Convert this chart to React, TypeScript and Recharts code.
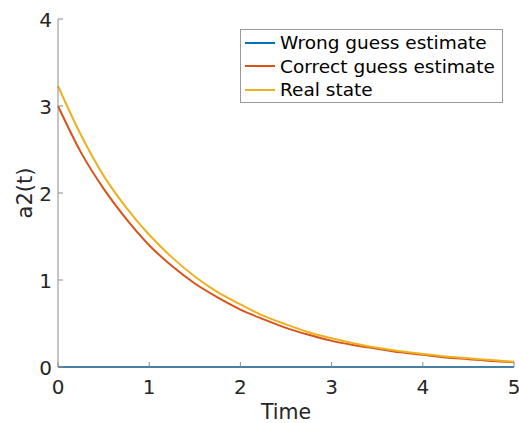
import React from 'react';
import { LineChart, Line, XAxis, YAxis, Legend, Label } from 'recharts';

const times = [0, 0.25, 0.5, 0.75, 1, 1.25, 1.5, 1.75, 2, 2.25, 2.5, 2.75, 3, 3.25, 3.5, 3.75, 4, 4.25, 4.5, 4.75, 5];
const wrongGuess = [0, 0, 0, 0, 0, 0, 0, 0, 0, 0, 0, 0, 0, 0, 0, 0, 0, 0, 0, 0, 0];
const correctGuess = [3.0, 2.47, 2.05, 1.7, 1.4, 1.16, 0.96, 0.8, 0.66, 0.55, 0.45, 0.37, 0.3, 0.25, 0.21, 0.17, 0.14, 0.11, 0.09, 0.07, 0.055];
const realState = [3.23, 2.67, 2.2, 1.83, 1.52, 1.26, 1.04, 0.86, 0.72, 0.59, 0.49, 0.4, 0.33, 0.27, 0.22, 0.18, 0.15, 0.12, 0.1, 0.08, 0.06];
const xTicks = [0, 1, 2, 3, 4, 5];
const yTicks = [0, 1, 2, 3, 4];
const seriesNames = ['Wrong guess estimate', 'Correct guess estimate', 'Real state'];

const data = times.map((t, i) => ({
  t,
  wrong: wrongGuess[i],
  correct: correctGuess[i],
  real: realState[i],
}));

const FONT = 'DejaVu Sans, sans-serif';
const TEXT = '#262626';
const AXIS = '#8c8c8c';

const XTick = (props: any) => {
  const { x, y, payload } = props;
  return (
    <g>
      <line x1={x} x2={x} y1={y} y2={y - 5} stroke={AXIS} strokeWidth={1} />
      <text x={x} y={y + 20} textAnchor="middle" dominantBaseline="central" fontSize={20} fontFamily={FONT} fill={TEXT}>
        {payload.value}
      </text>
    </g>
  );
};

const YTick = (props: any) => {
  const { x, y, payload } = props;
  return (
    <g>
      <line x1={x} x2={x + 5} y1={y} y2={y} stroke={AXIS} strokeWidth={1} />
      <text x={x - 6} y={y + 1} textAnchor="end" dominantBaseline="central" fontSize={20} fontFamily={FONT} fill={TEXT}>
        {payload.value}
      </text>
    </g>
  );
};

const LegendBox = (props: any) => {
  const payload = [...(props.payload || [])].sort(
    (a: any, b: any) => seriesNames.indexOf(a.value) - seriesNames.indexOf(b.value)
  );
  return (
    <div
      style={{
        border: '1px solid #9a9a9a',
        background: '#fff',
        width: 263,
        height: 74,
        padding: '1px 0 0 0',
        fontFamily: FONT,
        fontSize: 18.5,
        color: '#000',
        boxSizing: 'border-box',
      }}
    >
      {payload.map((p: any) => (
        <div key={p.value} style={{ display: 'flex', alignItems: 'center', height: 23.5 }}>
          <div style={{ width: 30, height: 2, background: p.color, marginLeft: 4, marginRight: 5, flexShrink: 0 }} />
          <span style={{ whiteSpace: 'nowrap', lineHeight: '23px' }}>{p.value}</span>
        </div>
      ))}
    </div>
  );
};

export default function App() {
  return (
    <div style={{ position: 'absolute', left: 0, top: 0, background: '#fff' }}>
      <LineChart width={519} height={423} data={data} margin={{ top: 19, right: 5, bottom: 0, left: 0 }}>
        <XAxis
          dataKey="t"
          type="number"
          domain={[0, 5]}
          ticks={xTicks}
          height={56}
          tickSize={0}
          tickMargin={0}
          tickLine={false}
          stroke={AXIS}
          tick={<XTick />}
          interval={0}
        >
          <Label
            content={(p: any) => {
              const vb = p.viewBox || { x: 58, width: 456 };
              return (
                <text x={vb.x + vb.width / 2} y={411.5} textAnchor="middle" dominantBaseline="central" fontSize={20.5} fontFamily={FONT} fill={TEXT}>
                  Time
                </text>
              );
            }}
          />
        </XAxis>
        <YAxis
          type="number"
          domain={[0, 4]}
          ticks={yTicks}
          width={58}
          tickSize={0}
          tickMargin={0}
          tickLine={false}
          stroke={AXIS}
          tick={<YTick />}
          interval={0}
        >
          <Label
            content={(p: any) => {
              const vb = p.viewBox || { y: 19, height: 348 };
              const cy = vb.y + vb.height / 2;
              return (
                <text x={25} y={cy} transform={`rotate(-90, 25, ${cy})`} textAnchor="middle" dominantBaseline="central" fontSize={21} fontFamily={FONT} fill={TEXT}>
                  a2(t)
                </text>
              );
            }}
          />
        </YAxis>
        <Legend
          layout="vertical"
          verticalAlign="middle"
          align="center"
          wrapperStyle={{ left: 240, top: 29, width: 264 }}
          content={<LegendBox />}
        />
        <Line type="monotone" dataKey="wrong" name={seriesNames[0]} stroke="#0072BD" strokeWidth={2} dot={false} isAnimationActive={false} />
        <Line type="monotone" dataKey="correct" name={seriesNames[1]} stroke="#D95319" strokeWidth={2} dot={false} isAnimationActive={false} />
        <Line type="monotone" dataKey="real" name={seriesNames[2]} stroke="#EDB120" strokeWidth={2} dot={false} isAnimationActive={false} />
      </LineChart>
    </div>
  );
}
